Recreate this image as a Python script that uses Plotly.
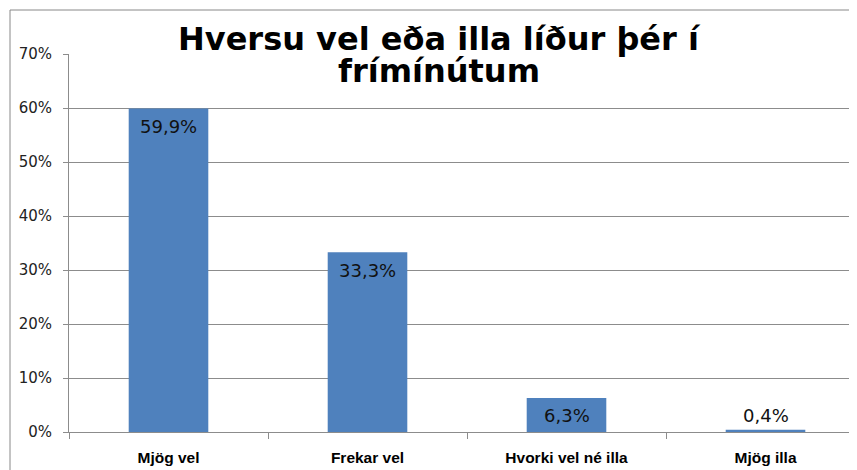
import plotly.graph_objects as go

categories = ["Mjög vel", "Frekar vel", "Hvorki vel né illa", "Mjög illa"]
values = [0.599, 0.333, 0.063, 0.004]
label_pos = ["inside", "inside", "inside", "outside"]
title_lines = ["Hversu vel eða illa líður þér í", "frímínútum"]

OFF = 8  # default page body margin
W, H = 857 - OFF, 470 - OFF
L, R, T, B = 69 - OFF, 0, 54 - OFF, 38
plot_w = W - L - R
plot_h = H - T - B
cat_px = 199  # category band width in pixels

def px_to_paper_x(px):
    return (px - OFF - L) / plot_w

def px_to_paper_y(py):
    return (H + OFF - B - py) / plot_h

grid = "#8c8c8c"
bar_color = "#4F81BD"

fig = go.Figure()
fig.add_trace(go.Bar(
    x=categories,
    y=values,
    width=0.4,
    marker=dict(color=bar_color, line=dict(width=0)),
    hoverinfo="skip",
))

annotations = []
for c, v, p in zip(categories, values, label_pos):
    annotations.append(dict(
        x=c, y=v, xref="x", yref="y",
        text=f"{v*100:.1f}".replace(".", ",") + "%",
        showarrow=False,
        yanchor="middle",
        yshift=-18 if p == "inside" else 14,
        font=dict(family="DejaVu Sans", size=18, color="#111111"),
    ))

title_centers = [39, 71]
for line, cy in zip(title_lines, title_centers):
    annotations.append(dict(
        x=px_to_paper_x(439), y=px_to_paper_y(cy), xref="paper", yref="paper",
        text=f"<b>{line}</b>", showarrow=False,
        xanchor="center", yanchor="middle",
        font=dict(family="DejaVu Sans", size=32, color="#000000"),
    ))

fig.update_layout(
    width=W, height=H, autosize=False,
    margin=dict(l=L, r=R, t=T, b=B, pad=0),
    paper_bgcolor="white", plot_bgcolor="white",
    showlegend=False,
    annotations=annotations,
    shapes=[dict(
        type="rect", xref="paper", yref="paper",
        x0=px_to_paper_x(10), y0=px_to_paper_y(10),
        x1=px_to_paper_x(900), y1=px_to_paper_y(520),
        line=dict(color="#888888", width=1), fillcolor="rgba(0,0,0,0)",
        layer="below",
    )],
    xaxis=dict(
        type="category",
        range=[-0.5, -0.5 + plot_w / cat_px],
        tickson="boundaries",
        ticks="outside", ticklen=6, tickcolor=grid,
        showline=True, linecolor=grid, linewidth=1,
        showgrid=False, zeroline=False,
        tickfont=dict(family="Liberation Sans", size=15.5, color="#000000", weight="bold"),
        ticklabelstandoff=11,
        automargin=False,
    ),
    yaxis=dict(
        range=[0, 0.7], dtick=0.1, tickformat=".0%",
        ticks="outside", ticklen=5, tickcolor=grid,
        showline=True, linecolor=grid, linewidth=1,
        showgrid=True, gridcolor=grid, gridwidth=1,
        zeroline=False,
        tickfont=dict(family="DejaVu Sans", size=15, color="#222222"),
        ticklabelstandoff=8,
        automargin=False,
    ),
)

fig.write_html("out.html")
